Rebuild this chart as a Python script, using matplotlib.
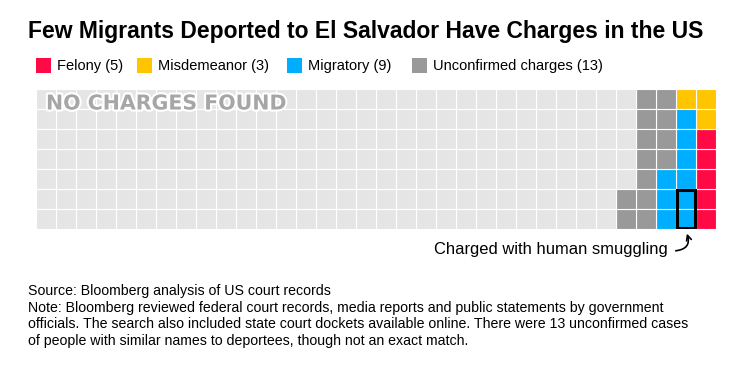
import matplotlib.pyplot as plt
from matplotlib.patches import Rectangle, FancyArrowPatch
import matplotlib.patheffects as pe

W, H = 741, 365

categories = ["Felony", "Misdemeanor", "Migratory", "Unconfirmed charges", "No charges found"]
counts = [5, 3, 9, 13, 208]
colors = ["#FF0A45", "#FFC500", "#00AEFF", "#999999", "#E5E5E5"]
n_rows, n_cols = 7, 34
smuggling_cells = [12, 13]  # positions in fill order

title = "Few Migrants Deported to El Salvador Have Charges in the US"
footer = [
    "Source: Bloomberg analysis of US court records",
    "Note: Bloomberg reviewed federal court records, media reports and public statements by government",
    "officials. The search also included state court dockets available online. There were 13 unconfirmed cases",
    "of people with similar names to deportees, though not an exact match.",
]


def px(x, y):
    return x / W, 1 - y / H


def cell_pos(k):
    # fill columns from the right, snaking bottom->top then top->bottom
    col = n_cols - 1 - k // n_rows
    j = k % n_rows
    row = n_rows - 1 - j if (k // n_rows) % 2 == 0 else j
    return col, row


def fit_width(txt, target_px):
    # shrink/grow font so the text spans target_px
    r = fig.canvas.get_renderer()
    w = txt.get_window_extent(r).width
    txt.set_fontsize(txt.get_fontsize() * target_px / w)


plt.rcParams["font.family"] = ["Liberation Sans", "DejaVu Sans"]
fig = plt.figure(figsize=(W / 100, H / 100), dpi=100)

t = fig.text(*px(28, 38), title, fontsize=17, fontweight="bold", va="baseline")
fit_width(t, 679)

# legend
leg_x = [36, 137, 287, 412]
for i in range(4):
    x0, y0 = px(leg_x[i], 73)
    fig.patches.append(Rectangle((x0, y0), 15 / W, 15 / H, transform=fig.transFigure,
                                 facecolor=colors[i], edgecolor="none"))
    fig.text(*px(leg_x[i] + 21, 70), f"{categories[i]} ({counts[i]})", fontsize=10.5,
             va="baseline")

ax = fig.add_axes([36 / W, (H - 229) / H, 680 / W, 140 / H])
ax.set_xlim(0, n_cols)
ax.set_ylim(n_rows, 0)
ax.axis("off")

k = 0
for cnt, col in zip(counts, colors):
    for _ in range(cnt):
        c, r = cell_pos(k)
        ax.add_patch(Rectangle((c, r), 1, 1, facecolor=col, edgecolor="white", lw=0.8))
        k += 1

cells = [cell_pos(i) for i in smuggling_cells]
cmin = min(c for c, r in cells)
rmin = min(r for c, r in cells)
cmax = max(c for c, r in cells) + 1
rmax = max(r for c, r in cells) + 1
ax.add_patch(Rectangle((cmin + 0.05, rmin + 0.05), cmax - cmin - 0.1, rmax - rmin - 0.1,
                       facecolor="none", edgecolor="black", lw=2.2, zorder=5))

nc = ax.text(0.5, 0.75, "NO CHARGES FOUND", fontsize=15, fontweight="bold", color="#A6A6A6",
             family="DejaVu Sans", va="center", ha="left",
             path_effects=[pe.withStroke(linewidth=3, foreground="white")])
fit_width(nc, 240)

ann = fig.text(*px(668, 254), "Charged with human smuggling", fontsize=11.8, ha="right",
               va="baseline")
fit_width(ann, 231)
tx, ty = px(673, 251)
hx, hy = ax.transData.transform(((cmin + cmax) / 2, rmax + 0.1))
hx, hy = fig.transFigure.inverted().transform((hx, hy))
fig.patches.append(FancyArrowPatch((tx, ty), (hx, hy), transform=fig.transFigure,
                                   connectionstyle="arc3,rad=0.7", arrowstyle="->",
                                   mutation_scale=9, lw=1.2, color="black"))

for i, line in enumerate(footer):
    fig.text(*px(28, 295 + i * 16.7), line, fontsize=10.2, va="baseline")

fig.savefig("out.png", dpi=100)
